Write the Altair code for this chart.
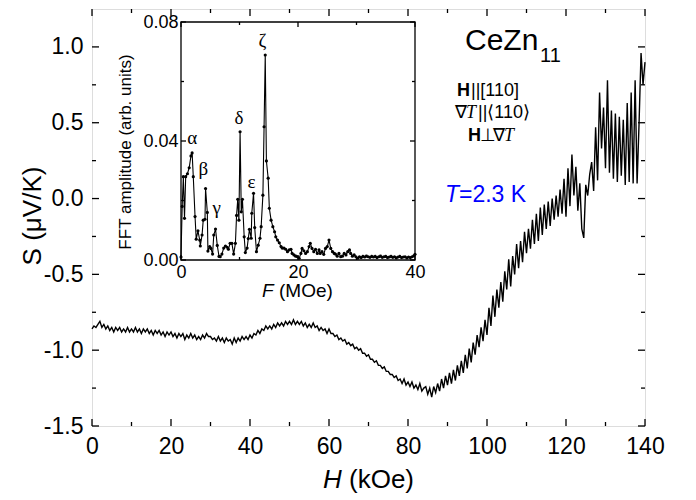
import altair as alt
import pandas as pd

FONT = "Liberation Sans"
SERIF = "Liberation Serif"

# ---------------- main curve: S(H) ----------------
H_LOW_START, H_LOW_STEP = 0.0, 0.5
S_low = [
    -0.86, -0.84, -0.85, -0.83, -0.81, -0.85, -0.83, -0.86, -0.84, -0.87,
    -0.85, -0.88, -0.85, -0.87, -0.85, -0.88, -0.86, -0.88, -0.85, -0.88,
    -0.86, -0.88, -0.85, -0.88, -0.86, -0.89, -0.86, -0.88, -0.86, -0.89,
    -0.87, -0.90, -0.87, -0.89, -0.87, -0.90, -0.88, -0.91, -0.88, -0.90,
    -0.88, -0.91, -0.89, -0.92, -0.89, -0.91, -0.89, -0.93, -0.90, -0.92,
    -0.89, -0.92, -0.90, -0.93, -0.91, -0.93, -0.90, -0.92, -0.89, -0.91,
    -0.91, -0.93, -0.92, -0.94, -0.91, -0.94, -0.92, -0.95, -0.92, -0.94,
    -0.93, -0.96, -0.92, -0.95, -0.92, -0.94, -0.91, -0.93, -0.91, -0.93,
    -0.90, -0.92, -0.89, -0.90, -0.87, -0.89, -0.86, -0.87, -0.84, -0.86,
    -0.84, -0.86, -0.83, -0.85, -0.82, -0.84, -0.82, -0.84, -0.81, -0.83,
    -0.81, -0.83, -0.80, -0.83, -0.81, -0.83, -0.81, -0.84, -0.82, -0.85,
    -0.83, -0.85, -0.82, -0.85, -0.84, -0.87, -0.85, -0.87, -0.86, -0.89,
    -0.86, -0.89, -0.89, -0.91, -0.90, -0.93, -0.92, -0.94, -0.93, -0.96,
    -0.95, -0.97, -0.96, -0.99, -0.98, -1.00, -0.99, -1.02, -1.02, -1.04,
    -1.03, -1.06, -1.06, -1.08, -1.07, -1.10, -1.10, -1.12, -1.11, -1.14,
    -1.14, -1.16, -1.16, -1.18, -1.17, -1.20, -1.19, -1.22, -1.19, -1.23,
    -1.21, -1.24, -1.21, -1.25, -1.23, -1.26, -1.22, -1.27, -1.25,
]
H_HIGH_START, H_HIGH_STEP = 84.5, 0.5
S_high = [
    -1.24, -1.29, -1.25, -1.31, -1.24, -1.28, -1.22, -1.27, -1.19, -1.25,
    -1.17, -1.23, -1.15, -1.22, -1.13, -1.20, -1.10, -1.17, -1.07, -1.15,
    -1.03, -1.12, -0.99, -1.08, -0.95, -1.03, -0.90, -0.98, -0.85, -0.94,
    -0.80, -0.90, -0.72, -0.84, -0.64, -0.78, -0.60, -0.72, -0.55, -0.68,
    -0.48, -0.60, -0.40, -0.58, -0.38, -0.50, -0.30, -0.46, -0.28, -0.42,
    -0.22, -0.36, -0.20, -0.33, -0.14, -0.30, -0.10, -0.28, -0.06, -0.24,
    -0.04, -0.20, -0.02, -0.18, 0.00, -0.14, 0.02, -0.12, 0.06, -0.10,
    0.13, -0.12, 0.20, -0.05, 0.29, 0.02, 0.21, -0.08, 0.10, -0.20,
    -0.26, 0.09, 0.02, 0.16, 0.24, 0.05, 0.47, 0.12, 0.70, 0.33,
    0.60, 0.20, 0.78, 0.17, 0.58, 0.13, 0.56, 0.11, 0.54, 0.15,
    0.52, 0.09, 0.63, 0.11, 0.70, 0.10, 0.78, 0.10, 0.50, 0.96,
    0.75, 0.90,
]

# ---------------- inset: FFT spectrum ----------------
F_MOe = [
    0.0, 0.2, 0.4, 0.6, 0.8, 1.1, 1.4, 1.7, 1.9, 2.1, 2.4, 2.6, 2.9, 3.2, 3.3,
    3.6, 3.8, 4.1, 4.2, 4.5, 4.6, 4.9, 5.1, 5.4, 5.6, 5.9, 6.2, 6.5, 6.7, 7.0,
    7.3, 7.6, 7.9, 8.1, 8.4, 8.7, 9.0, 9.3, 9.5, 9.7, 9.9, 10.1, 10.3, 10.5,
    10.8, 11.0, 11.3, 11.5, 11.7, 12.0, 12.1, 12.4, 12.6, 12.9, 13.2, 13.5,
    13.7, 14.0, 14.2, 14.4, 14.6, 14.9, 15.1, 15.4, 15.7, 16.0, 16.2, 16.5,
    16.8, 17.1, 17.3, 17.6, 17.9, 18.2, 18.5, 18.8, 19.0, 19.3, 19.6, 19.9,
    20.2, 20.5, 20.7, 21.0, 21.3, 21.6, 21.9, 22.1, 22.4, 22.7, 23.0, 23.3,
    23.6, 23.8, 24.1, 24.4, 24.7, 25.0, 25.3, 25.6, 25.9, 26.2, 26.4, 26.7,
    27.0, 27.3, 27.6, 27.9, 28.2, 28.5, 28.8, 29.0, 29.3, 29.6, 29.9, 30.2,
    30.5, 30.8, 31.1, 31.4, 31.7, 32.0, 32.3, 32.6, 32.9, 33.2, 33.5, 33.8,
    34.1, 34.4, 34.7, 35.0, 35.3, 35.6, 35.9, 36.2, 36.5, 36.8, 37.1, 37.4,
    37.7, 38.0, 38.3, 38.6, 38.9, 39.2, 39.5, 39.8, 40.0,
]
FFT_amp = [
    0.0010, 0.0180, 0.0280, 0.0140, 0.0280, 0.0290, 0.0310, 0.0350, 0.0360,
    0.0280, 0.0146, 0.0070, 0.0098, 0.0067, 0.0047, 0.0084, 0.0134, 0.0137,
    0.0240, 0.0160, 0.0030, 0.0045, 0.0039, 0.0020, 0.0084, 0.0104, 0.0049,
    0.0012, 0.0011, 0.0020, 0.0040, 0.0047, 0.0043, 0.0036, 0.0056, 0.0056,
    0.0020, 0.0056, 0.0150, 0.0204, 0.0134, 0.0431, 0.0162, 0.0204, 0.0078,
    0.0025, 0.0040, 0.0072, 0.0103, 0.0073, 0.0157, 0.0224, 0.0109, 0.0028,
    0.0050, 0.0073, 0.0112, 0.0218, 0.0448, 0.0689, 0.0333, 0.0275, 0.0174,
    0.0134, 0.0112, 0.0095, 0.0078, 0.0067, 0.0058, 0.0045, 0.0040, 0.0040,
    0.0036, 0.0028, 0.0034, 0.0036, 0.0022, 0.0017, 0.0013, 0.0011, 0.0006,
    0.0022, 0.0039, 0.0031, 0.0022, 0.0028, 0.0045, 0.0056, 0.0039, 0.0028,
    0.0036, 0.0022, 0.0034, 0.0022, 0.0028, 0.0019, 0.0039, 0.0045, 0.0067,
    0.0039, 0.0028, 0.0022, 0.0020, 0.0013, 0.0022, 0.0011, 0.0013, 0.0022,
    0.0017, 0.0028, 0.0034, 0.0022, 0.0013, 0.0017, 0.0011, 0.0006, 0.0011,
    0.0008, 0.0012, 0.0010, 0.0013, 0.0011, 0.0009, 0.0012, 0.0010, 0.0012,
    0.0008, 0.0011, 0.0013, 0.0009, 0.0011, 0.0012, 0.0008, 0.0010, 0.0012,
    0.0009, 0.0011, 0.0007, 0.0010, 0.0012, 0.0008, 0.0010, 0.0011, 0.0007,
    0.0010, 0.0008, 0.0011, 0.0014, 0.0019,
]
greek_labels = ["α", "β", "γ", "δ", "ε", "ζ"]
greek_F = [1.9, 3.8, 6.1, 9.9, 12.05, 13.9]
greek_A = [0.0410, 0.0306, 0.0175, 0.0477, 0.0262, 0.0736]

# ---------------- ticks ----------------
main_x_major = [0, 20, 40, 60, 80, 100, 120, 140]
main_x_minor = [10, 30, 50, 70, 90, 110, 130]
main_y_major = [-1.5, -1.0, -0.5, 0.0, 0.5, 1.0]
main_y_minor = [-1.25, -0.75, -0.25, 0.25, 0.75]
inset_x_major = [0, 20, 40]
inset_x_minor = [10, 30]
inset_y_major = [0.0, 0.04, 0.08]
inset_y_minor = [0.02, 0.06]

# ---------------- layout (pixels) ----------------
W, HT = 553, 417
OX, OY = 92, 9           # page position of plot origin
SVG_W, SVG_H = 680, 486
IX0, IX1 = 89, 323       # inset x range inside plot
IY0, IY1 = 251, 13       # inset y range inside plot (bottom, top)
MAJ, MIN = 7, 4
IMAJ, IMIN = 5, 3


def xs_main():
    return alt.Scale(domain=[0, 140], nice=False, zero=False)


def ys_main():
    return alt.Scale(domain=[-1.5, 1.25], nice=False, zero=False)


def xs_in():
    return alt.Scale(domain=[0, 40], range=[IX0, IX1], nice=False, zero=False)


def ys_in():
    return alt.Scale(domain=[0, 0.08], range=[IY0, IY1], nice=False, zero=False)


H_vals = [H_LOW_START + i * H_LOW_STEP for i in range(len(S_low))] + \
         [H_HIGH_START + i * H_HIGH_STEP for i in range(len(S_high))]
main_df = pd.DataFrame({"H": H_vals, "S": S_low + S_high})

lab_common = dict(ticks=False, domain=False, grid=False, title=None,
                  labelFont=FONT, labelColor="black", labelFlush=False,
                  labelOverlap=False, tickSize=0)

line = alt.Chart(main_df).mark_line(color="black", strokeWidth=1.4).encode(
    x=alt.X("H:Q", scale=xs_main(), axis=alt.Axis(
        values=main_x_major, orient="bottom", labelFontSize=23, labelPadding=9,
        format="d", **lab_common)),
    y=alt.Y("S:Q", scale=ys_main(), axis=alt.Axis(
        values=main_y_major, orient="left", labelFontSize=23, labelPadding=9,
        labelExpr="replace(format(datum.value, '.1f'), '\u2212', '-')",
        **lab_common)),
)


def xticks(vals, xscale, ybottom, ytop, length):
    df = pd.DataFrame({"v": vals})
    out = []
    for y0, y1 in ((ybottom, ybottom - length), (ytop, ytop + length)):
        out.append(alt.Chart(df).mark_rule(color="black", strokeWidth=1.3).encode(
            x=alt.X("v:Q", scale=xscale(), axis=None),
            y=alt.value(y0), y2=alt.value(y1)))
    return out


def yticks(vals, yscale, xleft, xright, length):
    df = pd.DataFrame({"v": vals})
    out = []
    for x0, x1 in ((xleft, xleft + length), (xright, xright - length)):
        out.append(alt.Chart(df).mark_rule(color="black", strokeWidth=1.3).encode(
            y=alt.Y("v:Q", scale=yscale(), axis=None),
            x=alt.value(x0), x2=alt.value(x1)))
    return out


layers = [line]
layers += xticks(main_x_major, xs_main, HT, 0, MAJ)
layers += xticks(main_x_minor, xs_main, HT, 0, MIN)
layers += yticks(main_y_major, ys_main, 0, W, MAJ)
layers += yticks(main_y_minor, ys_main, 0, W, MIN)

# ---------------- inset ----------------
fft_df = pd.DataFrame({"F": F_MOe, "A": FFT_amp})
frame_df = pd.DataFrame({"F": [0], "F2": [40], "A": [0.0], "A2": [0.08]})
inset_frame = alt.Chart(frame_df).mark_rect(
    filled=False, stroke="black", strokeWidth=1.3).encode(
    x=alt.X("F:Q", scale=xs_in(), axis=None), x2="F2:Q",
    y=alt.Y("A:Q", scale=ys_in(), axis=None), y2="A2:Q")
inset_line = alt.Chart(fft_df).mark_line(
    color="black", strokeWidth=1.1,
    point=alt.OverlayMarkDef(filled=True, size=10, color="black"),
).encode(
    x=alt.X("F:Q", scale=xs_in(), axis=alt.Axis(
        values=inset_x_major, orient="bottom", offset=-(HT - IY0),
        labelFontSize=18, labelPadding=3, format="d", **lab_common)),
    y=alt.Y("A:Q", scale=ys_in(), axis=alt.Axis(
        values=inset_y_major, orient="left", offset=-IX0,
        labelFontSize=18, labelPadding=3, format=".2f", **lab_common)),
)
greek_df = pd.DataFrame({"F": greek_F, "A": greek_A, "t": greek_labels})
inset_greek = alt.Chart(greek_df).mark_text(
    font=SERIF, fontSize=19, color="black", align="center", baseline="middle"
).encode(x=alt.X("F:Q", scale=xs_in(), axis=None),
         y=alt.Y("A:Q", scale=ys_in(), axis=None), text="t:N")

layers += [inset_frame, inset_line, inset_greek]
layers += xticks(inset_x_major, xs_in, IY0, IY1, IMAJ)
layers += xticks(inset_x_minor, xs_in, IY0, IY1, IMIN)
layers += yticks(inset_y_major, ys_in, IX0, IX1, IMAJ)
layers += yticks(inset_y_minor, ys_in, IX0, IX1, IMIN)


# ---------------- text annotations (page pixel positions) ----------------
def ann(rows, font, weight="normal", style="normal", color="black",
        angle=0, align="left", baseline="alphabetic"):
    df = pd.DataFrame(rows, columns=["t", "px", "py", "fs"])
    df["px"] = df["px"] - OX
    df["py"] = df["py"] - OY
    return alt.Chart(df).mark_text(
        font=font, fontWeight=weight, fontStyle=style, color=color,
        angle=angle, align=align, baseline=baseline,
    ).encode(
        x=alt.X("px:Q", scale=None, axis=None),
        y=alt.Y("py:Q", scale=None, axis=None),
        size=alt.Size("fs:Q", scale=None, legend=None),
        text="t:N",
    )


layers += [
    ann([
        ("CeZn", 465, 50, 30),
        ("11", 540, 62, 20),
        ("||[110]", 471, 96, 18),
        ("||⟨110⟩", 478, 118, 18),
        ("(kOe)", 349, 488, 26),
        ("(MOe)", 279, 297, 19),
    ], FONT),
    ann([("H", 457, 96, 18), ("H", 468, 141, 18)], FONT, weight="bold"),
    ann([("∇", 455, 118, 18), ("⊥", 480, 141, 18), ("∇", 493, 141, 18)], SERIF),
    ann([("T", 466, 118, 18), ("T", 504, 141, 18)], SERIF, style="italic"),
    ann([("H", 323, 488, 26), ("F", 262, 297, 19)], FONT, style="italic"),
    ann([("T", 445, 202, 23)], FONT, style="italic", color="#0000ff"),
    ann([("=2.3 K", 459, 202, 23)], FONT, color="#0000ff"),
    ann([("S (μV/K)", 33, 216, 26)], FONT, angle=270, align="center",
        baseline="middle"),
    ann([("FFT amplitude (arb. units)", 126, 152, 17)], FONT, angle=270,
        align="center", baseline="middle"),
]

chart = alt.layer(*layers).resolve_scale(
    x="independent", y="independent", size="independent"
).properties(
    width=W, height=HT,
    padding={"left": OX - 8, "top": OY - 8, "right": SVG_W - (OX - 8) - W,
             "bottom": SVG_H - (OY - 8) - HT},
    autosize=alt.AutoSizeParams(type="none"),
    background="white",
).configure_view(
    stroke="black", strokeWidth=1.6,
).configure(font=FONT)

chart.save("out.html", embed_options={"renderer": "svg", "actions": False})
